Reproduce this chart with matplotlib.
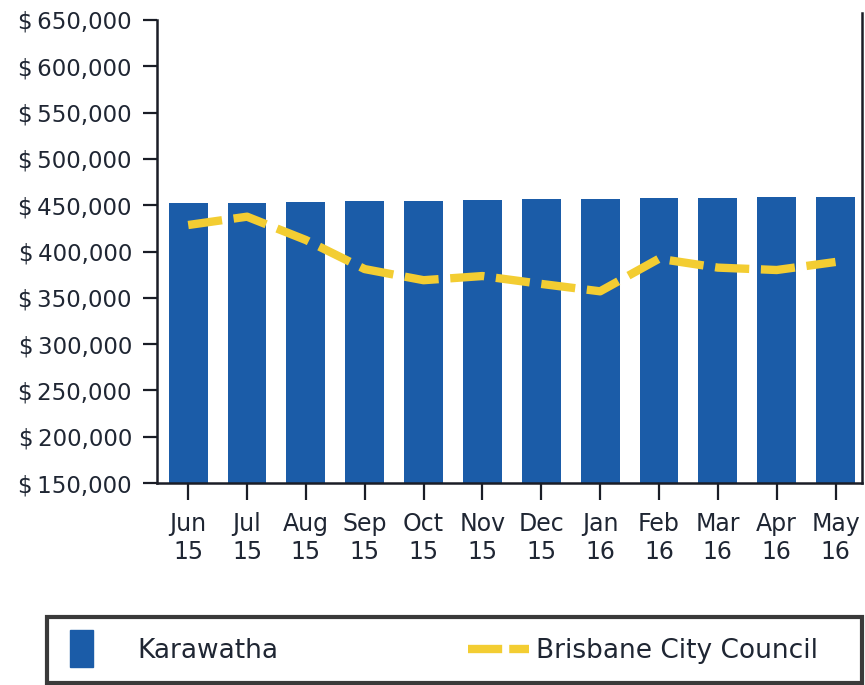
import matplotlib
matplotlib.use("Agg")
import matplotlib.pyplot as plt
from matplotlib.patches import Rectangle
from matplotlib.lines import Line2D
from matplotlib.legend_handler import HandlerPatch

plt.rcParams['text.parse_math'] = False
plt.rcParams['font.family'] = ['DejaVu Sans']

months = ["Jun\n15", "Jul\n15", "Aug\n15", "Sep\n15", "Oct\n15", "Nov\n15",
          "Dec\n15", "Jan\n16", "Feb\n16", "Mar\n16", "Apr\n16", "May\n16"]
karawatha = [452700, 452900, 453700, 454100, 454500, 455300,
             456400, 456700, 457400, 457800, 458500, 459200]
brisbane = [428600, 437600, 412400, 381000, 369000, 373500,
            365000, 357000, 392200, 382600, 380000, 388700]
yticks = [150000, 200000, 250000, 300000, 350000, 400000,
          450000, 500000, 550000, 600000, 650000]
ytick_labels = ["$\u2009%s" % format(v, ",") for v in yticks]

BAR = "#1b5ca8"
LINE = "#f3cd32"
TXT = "#1f2633"
AX = "#1a1d26"

W, H = 865, 685
fig = plt.figure(figsize=(W / 100, H / 100), dpi=100)
ax = fig.add_axes([157 / W, (H - 483) / H, (862 - 157) / W, (483 - 20) / H])

x = list(range(len(months)))
ax.bar(x, [k - 150000 for k in karawatha], bottom=150000, width=0.66,
       color=BAR, zorder=2, label="Karawatha")
ax.plot(x, brisbane, color=LINE, lw=6, dashes=(4.1, 1.4),
        dash_capstyle='butt', zorder=3, label="Brisbane City Council")

ax.set_xlim(-0.53, 11.45)
ax.set_ylim(150000, 650000)
ax.set_yticks(yticks)
ax.set_yticklabels(ytick_labels)
ax.set_xticks(x)
ax.set_xticklabels(months, linespacing=1.2)

ax.spines['top'].set_visible(False)
for s in ['left', 'bottom', 'right']:
    ax.spines[s].set_color(AX)
    ax.spines[s].set_linewidth(1.8)
ax.spines['right'].set_bounds(150000, 658000)

ax.tick_params(axis='y', length=10, width=1.6, pad=8, labelsize=16.5,
               colors=AX, labelcolor=TXT)
ax.tick_params(axis='x', length=12, width=1.6, pad=9, labelsize=17,
               colors=AX, labelcolor=TXT)

# legend frame
fig.patches.append(Rectangle((47 / W, 2 / H), (862 - 47) / W, (683 - 617) / H,
                             transform=fig.transFigure, fill=False,
                             edgecolor="#3a3a3a", linewidth=3, zorder=5))

def rect_patch(legend, orig_handle, xdescent, ydescent, width, height, fontsize):
    w = 16.6
    h = 26.6
    return Rectangle((-xdescent, -ydescent + height / 2 - h / 2), w, h)

handles = [Rectangle((0, 0), 1, 1, color=BAR),
           Line2D([0], [0], color=LINE, lw=6, dashes=(4.1, 0.85), dash_capstyle='butt')]
labels = ["Karawatha", "Brisbane City Council"]
leg = fig.legend(handles, labels, loc='center left',
                 bbox_to_anchor=(70 / W, 34 / H), ncol=2, frameon=False,
                 fontsize=19, handlelength=2.3, handletextpad=0.25,
                 columnspacing=7.2, borderpad=0, borderaxespad=0,
                 handler_map={Rectangle: HandlerPatch(patch_func=rect_patch)})
for t in leg.get_texts():
    t.set_color(TXT)

fig.savefig("out.png", dpi=100)
